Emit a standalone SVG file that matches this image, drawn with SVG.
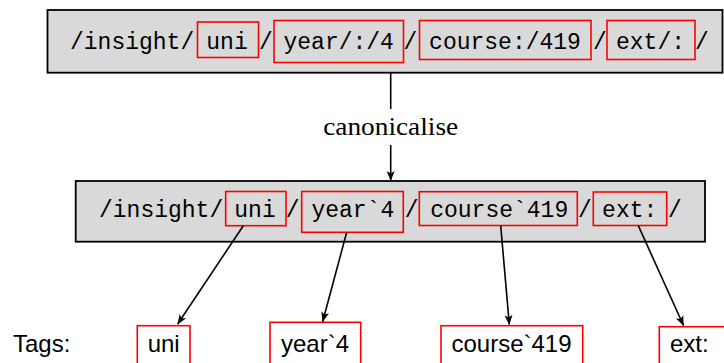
<svg xmlns="http://www.w3.org/2000/svg" width="724" height="363" viewBox="0 0 724 363">
  <style>
    .path-box { fill: #d9d9d9; stroke: #000; stroke-width: 1.8; }
    .seg { fill: none; stroke: #ff0000; stroke-width: 1.6; }
    .tag { fill: #fff; stroke: #ff0000; stroke-width: 1.6; }
    .tt { font-family: "Liberation Mono", "DejaVu Sans Mono", monospace; font-size: 23px; fill: #000; }
    .sf { font-family: "Liberation Sans", Arial, sans-serif; font-size: 24px; fill: #000; }
    .rm { font-family: "Liberation Serif", "Times New Roman", serif; font-size: 25px; fill: #000; }
    .edge { fill: none; stroke: #000; stroke-width: 1.6; marker-end: url(#head); }
  </style>
  <defs>
    <marker id="head" viewBox="-11 -5 12 10" refX="0" refY="0" markerWidth="12" markerHeight="10" markerUnits="userSpaceOnUse" orient="auto">
      <path d="M0.5,0 L-9.5,-4 L-7,0 L-9.5,4 Z" fill="#000"/>
    </marker>
  </defs>

  <!-- raw path with its segments -->
  <g id="raw-path">
    <rect class="path-box" x="47.5" y="10" width="675" height="62.7"/>
    <rect class="seg" x="197.5" y="22" width="61" height="35.5"/>
    <rect class="seg" x="274" y="20.5" width="129.5" height="42"/>
    <rect class="seg" x="419.5" y="20.5" width="171.5" height="39"/>
    <rect class="seg" x="607" y="20.5" width="88" height="39"/>
    <text class="tt" x="70" y="48.5">/insight/</text>
    <text class="tt" x="227" y="48.5" text-anchor="middle">uni</text>
    <text class="tt" x="266" y="48.5" text-anchor="middle">/</text>
    <text class="tt" x="338.7" y="48.5" text-anchor="middle">year/:/4</text>
    <text class="tt" x="410.5" y="48.5" text-anchor="middle">/</text>
    <text class="tt" x="505" y="48.5" text-anchor="middle">course:/419</text>
    <text class="tt" x="600" y="48.5" text-anchor="middle">/</text>
    <text class="tt" x="616" y="48.5">ext/:</text>
    <text class="tt" x="702" y="48.5" text-anchor="middle">/</text>
  </g>

  <!-- canonical path with its segments -->
  <g id="canonical-path">
    <rect class="path-box" x="75.7" y="181" width="629.3" height="60.7"/>
    <rect class="seg" x="225.7" y="191.5" width="60.3" height="34.2"/>
    <rect class="seg" x="301.7" y="191.5" width="101.6" height="40.8"/>
    <rect class="seg" x="419.3" y="191.7" width="158" height="33.8"/>
    <rect class="seg" x="593.3" y="192" width="73.4" height="33.5"/>
    <text class="tt" x="99" y="216.8">/insight/</text>
    <text class="tt" x="255" y="216.8" text-anchor="middle">uni</text>
    <text class="tt" x="292.7" y="216.8" text-anchor="middle">/</text>
    <text class="tt" x="352.8" y="216.8" text-anchor="middle">year`4</text>
    <text class="tt" x="411.7" y="216.8" text-anchor="middle">/</text>
    <text class="tt" x="499.2" y="216.8" text-anchor="middle">course`419</text>
    <text class="tt" x="585" y="216.8" text-anchor="middle">/</text>
    <text class="tt" x="629.7" y="216.8" text-anchor="middle">ext:</text>
    <text class="tt" x="675" y="216.8" text-anchor="middle">/</text>
  </g>

  <!-- step label -->
  <g id="canonicalise">
    <text class="rm" x="390.7" y="135" text-anchor="middle" textLength="135" lengthAdjust="spacingAndGlyphs">canonicalise</text>
  </g>

  <!-- tag list -->
  <g id="tags">
    <text class="sf" x="13" y="351.7">Tags:</text>
    <g id="tag-uni">
      <rect class="tag" x="137.3" y="325.7" width="52.7" height="40"/>
      <text class="sf" x="163.7" y="351.7" text-anchor="middle">uni</text>
    </g>
    <g id="tag-year">
      <rect class="tag" x="270" y="322.3" width="90.7" height="44"/>
      <text class="sf" x="315" y="351.7" text-anchor="middle">year`4</text>
    </g>
    <g id="tag-course">
      <rect class="tag" x="441" y="325.7" width="141.7" height="40"/>
      <text class="sf" x="511.5" y="351.7" text-anchor="middle">course`419</text>
    </g>
    <g id="tag-ext">
      <rect class="tag" x="659.3" y="326.7" width="80" height="40"/>
      <text class="sf" x="670" y="351.7">ext:</text>
    </g>
  </g>

  <!-- connectors -->
  <g id="connectors">
    <line x1="390.7" y1="72.7" x2="390.7" y2="109" stroke="#000" stroke-width="1.6"/>
    <line class="edge" x1="390.7" y1="145" x2="390.7" y2="180.5"/>
    <line class="edge" x1="243.3" y1="225.7" x2="177.7" y2="324"/>
    <line class="edge" x1="346.7" y1="232.3" x2="322.7" y2="321.5"/>
    <line class="edge" x1="500.7" y1="225.7" x2="509.3" y2="324.5"/>
    <line class="edge" x1="638.3" y1="225.7" x2="683.5" y2="325.5"/>
  </g>
</svg>
